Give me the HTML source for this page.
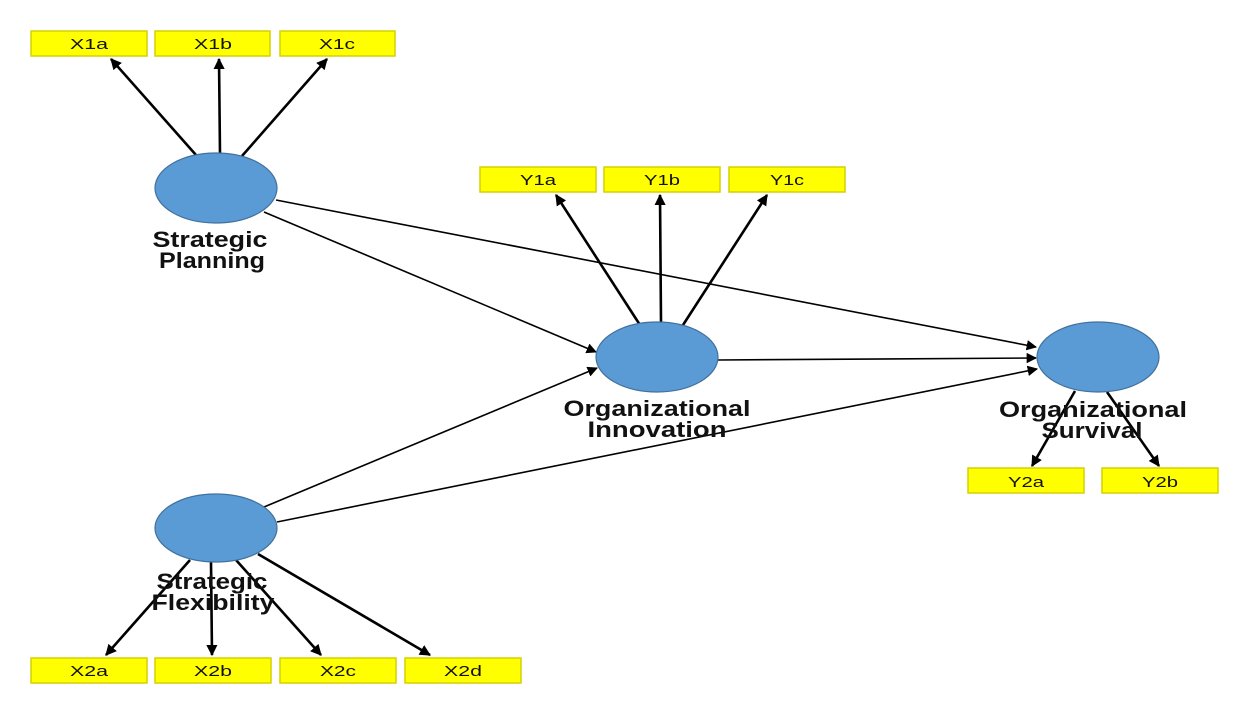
<!DOCTYPE html>
<html><head><meta charset="utf-8"><style>
html,body{margin:0;padding:0;background:#fff;}
svg{display:block}
.b{fill:#ffff00;stroke:#d4d000;stroke-width:1.5}
.bt{font-family:"Liberation Sans",sans-serif;font-size:15px;text-anchor:middle;fill:#111}
.lt{font-family:"Liberation Sans",sans-serif;font-size:22px;font-weight:bold;text-anchor:middle;fill:#111}
.e{fill:#5b9bd5;stroke:#41719c;stroke-width:1.2}
.t{stroke:#000;stroke-width:2.6;fill:none}
.s{stroke:#000;stroke-width:1.6;fill:none}
</style></head><body>
<svg width="1239" height="704" viewBox="0 0 1239 704" xmlns="http://www.w3.org/2000/svg">
<defs>
<marker id="a" viewBox="0 0 10 10" refX="9" refY="5" markerWidth="4.3" markerHeight="4.3" orient="auto"><path d="M0,0 L10,5 L0,10 z" fill="#000"/></marker>
<marker id="a2" viewBox="0 0 10 10" refX="9" refY="5" markerWidth="6.5" markerHeight="6.5" orient="auto"><path d="M0,0 L10,5 L0,10 z" fill="#000"/></marker>
</defs>
<rect class="b" x="31" y="31" width="116" height="25"/><text class="bt" x="89" y="49" textLength="38" lengthAdjust="spacingAndGlyphs">X1a</text>
<rect class="b" x="155" y="31" width="115" height="25"/><text class="bt" x="213" y="49" textLength="38" lengthAdjust="spacingAndGlyphs">X1b</text>
<rect class="b" x="280" y="31" width="115" height="25"/><text class="bt" x="337" y="49" textLength="36" lengthAdjust="spacingAndGlyphs">X1c</text>
<rect class="b" x="480" y="167" width="116" height="25"/><text class="bt" x="538" y="185" textLength="36" lengthAdjust="spacingAndGlyphs">Y1a</text>
<rect class="b" x="604" y="167" width="116" height="25"/><text class="bt" x="662" y="185" textLength="36" lengthAdjust="spacingAndGlyphs">Y1b</text>
<rect class="b" x="729" y="167" width="116" height="25"/><text class="bt" x="787" y="185" textLength="34" lengthAdjust="spacingAndGlyphs">Y1c</text>
<rect class="b" x="968" y="468" width="116" height="25"/><text class="bt" x="1026" y="487" textLength="36" lengthAdjust="spacingAndGlyphs">Y2a</text>
<rect class="b" x="1102" y="468" width="116" height="25"/><text class="bt" x="1160" y="487" textLength="36" lengthAdjust="spacingAndGlyphs">Y2b</text>
<rect class="b" x="31" y="658" width="116" height="25"/><text class="bt" x="89" y="676" textLength="38" lengthAdjust="spacingAndGlyphs">X2a</text>
<rect class="b" x="155" y="658" width="116" height="25"/><text class="bt" x="213" y="676" textLength="38" lengthAdjust="spacingAndGlyphs">X2b</text>
<rect class="b" x="280" y="658" width="116" height="25"/><text class="bt" x="338" y="676" textLength="36" lengthAdjust="spacingAndGlyphs">X2c</text>
<rect class="b" x="405" y="658" width="116" height="25"/><text class="bt" x="463" y="676" textLength="38" lengthAdjust="spacingAndGlyphs">X2d</text>
<line class="t" x1="196" y1="155" x2="111" y2="59" marker-end="url(#a)"/>
<line class="t" x1="220" y1="154" x2="219" y2="59" marker-end="url(#a)"/>
<line class="t" x1="242" y1="156" x2="327" y2="59" marker-end="url(#a)"/>
<line class="t" x1="640" y1="325" x2="556" y2="195" marker-end="url(#a)"/>
<line class="t" x1="661" y1="322" x2="660" y2="195" marker-end="url(#a)"/>
<line class="t" x1="683" y1="325" x2="767" y2="195" marker-end="url(#a)"/>
<line class="t" x1="1075" y1="391" x2="1032" y2="466" marker-end="url(#a)"/>
<line class="t" x1="1107" y1="392" x2="1159" y2="466" marker-end="url(#a)"/>
<line class="t" x1="190" y1="560" x2="106" y2="655" marker-end="url(#a)"/>
<line class="t" x1="211" y1="562" x2="212" y2="655" marker-end="url(#a)"/>
<line class="t" x1="236" y1="560" x2="321" y2="655" marker-end="url(#a)"/>
<line class="t" x1="258" y1="554" x2="430" y2="655" marker-end="url(#a)"/>
<line class="s" x1="264" y1="212" x2="596" y2="352" marker-end="url(#a2)"/>
<line class="s" x1="276" y1="200" x2="1036" y2="347" marker-end="url(#a2)"/>
<line class="s" x1="264" y1="507" x2="597" y2="368" marker-end="url(#a2)"/>
<line class="s" x1="277" y1="522" x2="1037" y2="369" marker-end="url(#a2)"/>
<line class="s" x1="718" y1="360" x2="1036" y2="358" marker-end="url(#a2)"/>
<ellipse class="e" cx="216" cy="188" rx="61" ry="35"/>
<ellipse class="e" cx="216" cy="528" rx="61" ry="34"/>
<ellipse class="e" cx="657" cy="357" rx="61" ry="35"/>
<ellipse class="e" cx="1098" cy="357" rx="61" ry="35"/>
<text class="lt" x="210" y="247" textLength="115" lengthAdjust="spacingAndGlyphs">Strategic</text>
<text class="lt" x="212" y="268" textLength="106" lengthAdjust="spacingAndGlyphs">Planning</text>
<text class="lt" x="657" y="416" textLength="187" lengthAdjust="spacingAndGlyphs">Organizational</text>
<text class="lt" x="657" y="437" textLength="139" lengthAdjust="spacingAndGlyphs">Innovation</text>
<text class="lt" x="1093" y="417" textLength="188" lengthAdjust="spacingAndGlyphs">Organizational</text>
<text class="lt" x="1092" y="438" textLength="101" lengthAdjust="spacingAndGlyphs">Survival</text>
<text class="lt" x="212" y="589" textLength="111" lengthAdjust="spacingAndGlyphs">Strategic</text>
<text class="lt" x="213" y="610" textLength="123" lengthAdjust="spacingAndGlyphs">Flexibility</text>
</svg>
</body></html>
